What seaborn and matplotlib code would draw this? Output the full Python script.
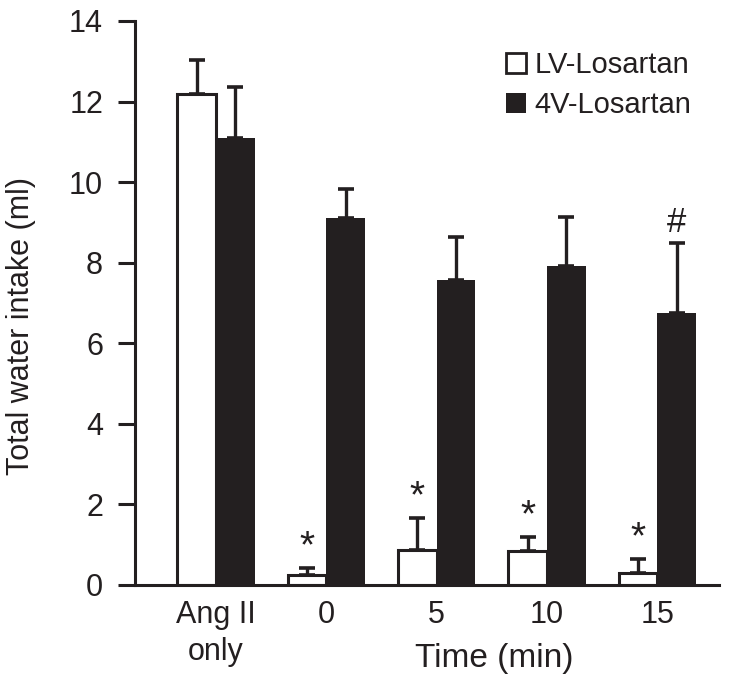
import matplotlib
matplotlib.use("Agg")
import matplotlib.pyplot as plt
import seaborn as sns
import pandas as pd
from matplotlib.patches import Patch

categories = ["Ang II\nonly", "0", "5", "10", "15"]
groups = ["LV-Losartan", "4V-Losartan"]
lv_mean = [12.18, 0.26, 0.87, 0.84, 0.31]
lv_err = [0.84, 0.15, 0.79, 0.36, 0.33]
v4_mean = [11.10, 9.11, 7.57, 7.93, 6.74]
v4_err = [1.27, 0.73, 1.06, 1.21, 1.74]
lv_marks = ["", "*", "*", "*", "*"]
v4_marks = ["", "", "", "", "#"]
yticks = [0, 2, 4, 6, 8, 10, 12, 14]

INK = "#231f20"

sns.set_theme(style="ticks")
plt.rcParams["font.family"] = ["Liberation Sans", "DejaVu Sans"]
plt.rcParams["text.color"] = INK
plt.rcParams["axes.labelcolor"] = INK
plt.rcParams["xtick.color"] = INK
plt.rcParams["ytick.color"] = INK

df = pd.DataFrame({
    "cat": categories * 2,
    "group": [groups[0]] * 5 + [groups[1]] * 5,
    "val": lv_mean + v4_mean,
})

fig = plt.figure(figsize=(7.29, 6.88), dpi=100)
ax = fig.add_axes([135 / 729, 1 - 585 / 688, (719 - 135) / 729, (585 - 21) / 688])

sns.barplot(data=df, x="cat", y="val", hue="group", order=categories,
            hue_order=groups, palette=["white", INK], width=0.7,
            errorbar=None, edgecolor=INK, linewidth=2.2, saturation=1,
            legend=False, ax=ax)

for p in ax.containers[1]:
    p.set_edgecolor(INK)
    p.set_linewidth(0)

for cont, errs, marks in [(ax.containers[0], lv_err, lv_marks),
                          (ax.containers[1], v4_err, v4_marks)]:
    for p, e, m in zip(cont, errs, marks):
        xc = p.get_x() + p.get_width() / 2
        h = p.get_height()
        ax.errorbar([xc], [h], yerr=[[0], [e]], fmt="none", ecolor=INK,
                    elinewidth=2.4, capsize=6, capthick=2.6, zorder=1)
        if m:
            fs = 28 if m == "*" else 25
            ax.annotate(m, (xc, h + e), xytext=(0, 15), textcoords="offset points",
                        ha="center", va="center", fontsize=fs, color=INK)

ax.set_ylim(0, 14)
ax.set_xlim(-0.735, 4.56)
ax.set_yticks(yticks)
ax.tick_params(axis="y", labelsize=22, length=12, width=2.2, pad=11)
ax.tick_params(axis="x", labelsize=22, length=0, pad=11)
for t in ax.get_xticklabels():
    t.set_linespacing(1.3)

for s in ["top", "right"]:
    ax.spines[s].set_visible(False)
for s in ["left", "bottom"]:
    ax.spines[s].set_linewidth(2.2)
    ax.spines[s].set_color(INK)

ax.set_xlabel("Time (min)", fontsize=24)
ax.xaxis.set_label_coords(0.616, -0.102)
ax.set_ylabel("Total water intake (ml)", fontsize=22)
ax.yaxis.set_label_coords(-0.17, 0.46)

handles = [Patch(facecolor="white", edgecolor=INK, linewidth=2),
           Patch(facecolor=INK, edgecolor=INK, linewidth=0)]
ax.legend(handles, groups, loc="upper left", frameon=False, fontsize=21,
          bbox_to_anchor=(506 / 729, 1 - 51 / 688), bbox_transform=fig.transFigure,
          handlelength=0.7, handleheight=0.7, handletextpad=0.28,
          labelspacing=0.42, borderpad=0, borderaxespad=0)

fig.savefig("out.png", dpi=100)
